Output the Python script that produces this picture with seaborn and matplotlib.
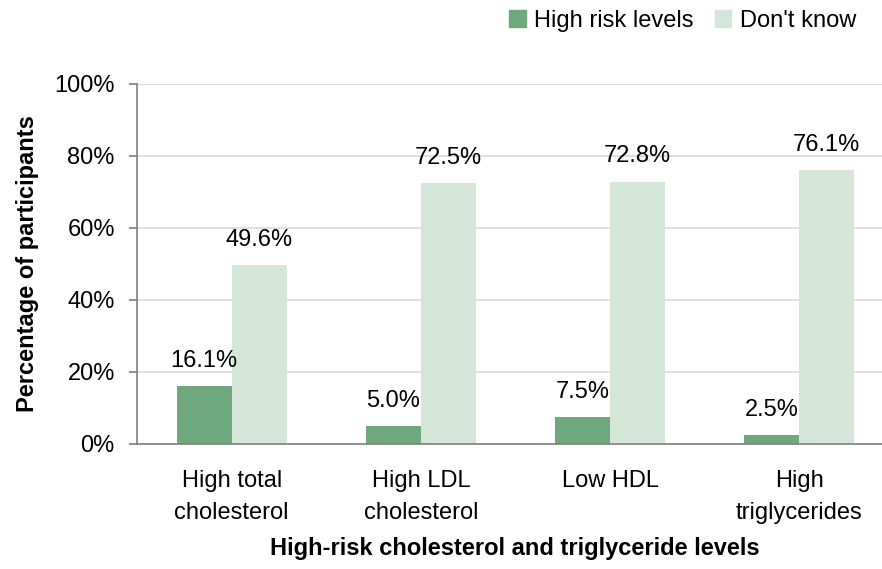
import matplotlib
matplotlib.use("Agg")
import matplotlib.pyplot as plt
import matplotlib.patches as mpatches
import seaborn as sns
import pandas as pd
import numpy as np

# chart data
categories = ["High total\ncholesterol", "High LDL\ncholesterol", "Low HDL", "High\ntriglycerides"]
high_risk = [16.1, 5.0, 7.5, 2.5]
dont_know = [49.6, 72.5, 72.8, 76.1]
series_names = ["High risk levels", "Don't know"]
y_ticks = [0, 20, 40, 60, 80, 100]

colors = {"High risk levels": "#6FA87D", "Don't know": "#D4E6D8"}

df = pd.DataFrame({
    "category": categories * 2,
    "value": high_risk + dont_know,
    "series": [series_names[0]] * 4 + [series_names[1]] * 4,
})

sns.set_theme(style="white")
plt.rcParams["font.family"] = ["Liberation Sans", "DejaVu Sans"]
plt.rcParams["text.color"] = "black"

W, H = 882, 569
fig = plt.figure(figsize=(W / 100, H / 100), dpi=100)
# axes runs a bit past the right edge, like the original
ax = fig.add_axes([137 / W, 1 - 444 / H, (894 - 137) / W, (444 - 84) / H])

sns.barplot(data=df, x="category", y="value", hue="series", palette=colors,
            width=0.58, saturation=1, order=categories, hue_order=series_names,
            linewidth=0, ax=ax, legend=False)

# value labels above each bar
for cont in ax.containers:
    for bar in cont:
        h = bar.get_height()
        ax.annotate(f"{h:.1f}%", (bar.get_x() + bar.get_width() / 2, h),
                    xytext=(0, 14), textcoords="offset points",
                    ha="center", va="baseline", fontsize=17, color="black")

ax.set_ylim(0, 100)
ax.set_xlim(-0.5, 3.5)
ax.set_yticks(y_ticks)
ax.set_yticklabels([f"{t}%" for t in y_ticks], fontsize=17)
ax.yaxis.grid(True, color="#D9D9D9", linewidth=1.2)
ax.set_axisbelow(True)

ax.set_xticks(range(len(categories)))
ax.set_xticklabels(categories, fontsize=17, linespacing=1.55)
ax.set_xticks(np.arange(-0.5, 4, 1), minor=True)
ax.tick_params(axis="x", which="major", length=0, pad=19, labelcolor="black")
ax.tick_params(axis="x", which="minor", length=6, width=1.2, color="#7F7F7F", direction="out")
ax.tick_params(axis="y", length=6, width=1.2, color="#7F7F7F", direction="out", pad=10,
               left=True, labelcolor="black")

for s in ["top", "right"]:
    ax.spines[s].set_visible(False)
for s in ["left", "bottom"]:
    ax.spines[s].set_color("#7F7F7F")
    ax.spines[s].set_linewidth(1.2)

ax.set_xlabel("")
ax.set_ylabel("")
fig.text(28 / W, 1 - 264 / H, "Percentage of participants", rotation=90,
         ha="center", va="center", fontsize=17, fontweight="bold")
fig.text(515 / W, 1 - 549 / H, "High-risk cholesterol and triglyceride levels",
         ha="center", va="center", fontsize=17, fontweight="bold")

handles = [mpatches.Patch(color=colors[n], label=n) for n in series_names]
fig.legend(handles=handles, loc="center right", bbox_to_anchor=(856 / W, 1 - 21 / H),
           ncol=2, frameon=False, fontsize=17, handlelength=0.7, handleheight=0.7,
           handletextpad=0.35, columnspacing=0.9, borderaxespad=0, borderpad=0)

fig.savefig("out.png", dpi=100)
plt.close(fig)
